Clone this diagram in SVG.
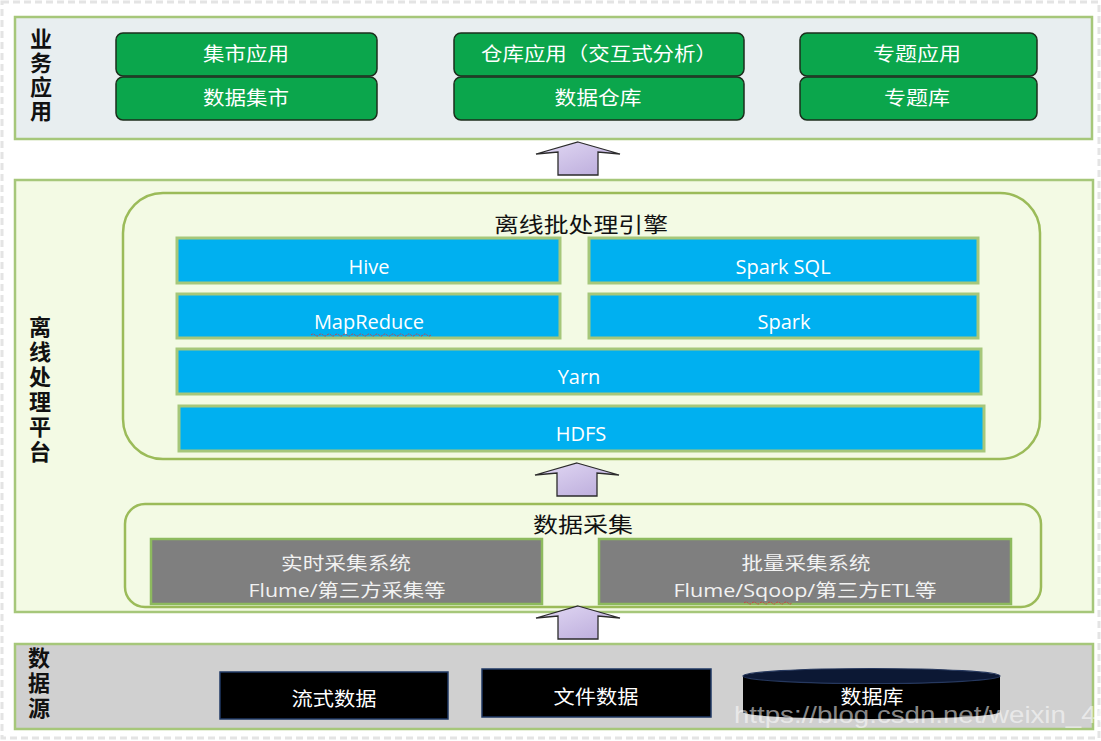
<svg xmlns="http://www.w3.org/2000/svg" width="1101" height="741" viewBox="0 0 1101 741">
<defs>
<linearGradient id="ag" x1="0" y1="0" x2="1" y2="1">
<stop offset="0" stop-color="#E2D9F4"/>
<stop offset="1" stop-color="#B9A9DA"/>
</linearGradient>
<path id="arrow" d="M0,0 L42,12 L20,10 L20,33 L-20,33 L-20,10 L-42,12 Z" fill="url(#ag)" stroke="#2b2b2b" stroke-width="1.3" stroke-linejoin="miter"/>
<style>
.panel{stroke:#A6C77A;stroke-width:2.5}
.lbl{font-family:"Noto Sans CJK SC",sans-serif;font-weight:bold;font-size:22px;fill:#111;writing-mode:vertical-rl}
.gbox{fill:#0BA64C;stroke:#1C2E1C;stroke-width:1.5}
.bbox{fill:#00B0F0;stroke:#A6C77A;stroke-width:3}
.graybox{fill:#7F7F7F;stroke:#8DBA5E;stroke-width:2.5}
.blk{fill:#000;stroke:#1F3864;stroke-width:1.5}
.inner{fill:none;stroke:#9BBB59;stroke-width:2.5}
.wt{font-family:"Open Sans","Noto Sans CJK SC",sans-serif;fill:#fff;text-anchor:middle;font-size:19px}
.bt{font-family:"Open Sans","Noto Sans CJK SC",sans-serif;fill:#fff;text-anchor:middle;font-size:20px}
.gt{font-family:"Open Sans","Noto Sans CJK SC",sans-serif;fill:#F2F2F2;text-anchor:middle;font-size:18px}
.title{font-family:"Noto Sans CJK SC",sans-serif;fill:#111;text-anchor:middle;font-size:21px}
.squig{fill:none;stroke:#D04040;stroke-width:1;stroke-dasharray:2 1}
</style>
</defs>
<rect x="2" y="2" width="1097" height="736" fill="#fff" stroke="#E4E4E4" stroke-width="3" stroke-dasharray="7 4"/>

<g id="layer-business">
<rect class="panel" x="15" y="17" width="1077" height="122" fill="#E8EEF0"/>
<text class="lbl" x="41" y="28" letter-spacing="2">业务应用</text>
</g>
<g id="node-mart-app"><rect class="gbox" x="116" y="33" width="261" height="43" rx="7"/><text class="wt" x="246" y="61" textLength="86" lengthAdjust="spacingAndGlyphs">集市应用</text></g>
<g id="node-mart"><rect class="gbox" x="116" y="77" width="261" height="43" rx="7"/><text class="wt" x="246" y="105" textLength="86" lengthAdjust="spacingAndGlyphs">数据集市</text></g>
<g id="node-dw-app"><rect class="gbox" x="454" y="33" width="290" height="43" rx="7"/><text class="wt" x="599" y="61" textLength="236" lengthAdjust="spacingAndGlyphs">仓库应用（交互式分析）</text></g>
<g id="node-dw"><rect class="gbox" x="454" y="77" width="290" height="43" rx="7"/><text class="wt" x="598" y="105" textLength="87" lengthAdjust="spacingAndGlyphs">数据仓库</text></g>
<g id="node-topic-app"><rect class="gbox" x="800" y="33" width="237" height="43" rx="7"/><text class="wt" x="917" y="61" textLength="88" lengthAdjust="spacingAndGlyphs">专题应用</text></g>
<g id="node-topic"><rect class="gbox" x="800" y="77" width="237" height="43" rx="7"/><text class="wt" x="917" y="105" textLength="66" lengthAdjust="spacingAndGlyphs">专题库</text></g>

<g id="layer-platform">
<rect class="panel" x="15" y="180" width="1078" height="432" fill="#F3FAE4"/>
<text class="lbl" x="40" y="316" letter-spacing="3">离线处理平台</text>
</g>
<g id="group-engine">
<rect class="inner" x="123" y="193" width="917" height="266" rx="40"/>
<text class="title" x="581" y="232" textLength="174" lengthAdjust="spacingAndGlyphs">离线批处理引擎</text>
</g>
<g id="node-hive"><rect class="bbox" x="177" y="238" width="383" height="45"/><text class="bt" x="369" y="274">Hive</text></g>
<g id="node-sparksql"><rect class="bbox" x="589" y="238" width="389" height="45"/><text class="bt" x="783" y="274">Spark SQL</text></g>
<g id="node-mapreduce"><rect class="bbox" x="177" y="294" width="383" height="44"/><text class="bt" x="369" y="329">MapReduce</text><path class="squig" d="M311,335 q2,-2 4,0 t4,0 t4,0 t4,0 t4,0 t4,0 t4,0 t4,0 t4,0 t4,0 t4,0 t4,0 t4,0 t4,0 t4,0 t4,0 t4,0 t4,0 t4,0 t4,0 t4,0 t4,0 t4,0 t4,0 t4,0 t4,0 t4,0 t4,0 t4,0 t4,0"/></g>
<g id="node-spark"><rect class="bbox" x="589" y="294" width="389" height="44"/><text class="bt" x="784" y="329">Spark</text></g>
<g id="node-yarn"><rect class="bbox" x="177" y="349" width="804" height="45"/><text class="bt" x="579" y="384">Yarn</text></g>
<g id="node-hdfs"><rect class="bbox" x="179" y="406" width="805" height="45"/><text class="bt" x="581" y="441">HDFS</text></g>

<g id="group-collect">
<rect class="inner" x="125" y="504" width="916" height="103" rx="20"/>
<text class="title" x="583" y="532" textLength="100" lengthAdjust="spacingAndGlyphs">数据采集</text>
</g>
<g id="node-realtime"><rect class="graybox" x="151" y="539" width="391" height="65"/><text class="gt" x="346" y="570" textLength="130" lengthAdjust="spacingAndGlyphs">实时采集系统</text><text class="gt" x="347" y="597" textLength="197" lengthAdjust="spacingAndGlyphs">Flume/第三方采集等</text></g>
<g id="node-batch"><rect class="graybox" x="599" y="539" width="412" height="65"/><text class="gt" x="806" y="570" textLength="129" lengthAdjust="spacingAndGlyphs">批量采集系统</text><text class="gt" x="805" y="597" textLength="263" lengthAdjust="spacingAndGlyphs">Flume/Sqoop/第三方ETL等</text><path class="squig" d="M744,603 q2,-2 4,0 t4,0 t4,0 t4,0 t4,0 t4,0 t4,0 t4,0 t4,0 t4,0 t4,0 t4,0"/></g>

<g id="layer-source">
<rect class="panel" x="15" y="644" width="1078" height="85" fill="#D0D0D0"/>
<text class="lbl" x="39" y="647" letter-spacing="3">数据源</text>
</g>
<g id="node-stream"><rect class="blk" x="220" y="672" width="228" height="47"/><text class="wt" x="334" y="706" textLength="85" lengthAdjust="spacingAndGlyphs">流式数据</text></g>
<g id="node-file"><rect class="blk" x="482" y="669" width="229" height="48"/><text class="wt" x="596" y="704" textLength="85" lengthAdjust="spacingAndGlyphs">文件数据</text></g>
<g id="node-db">
<path d="M743,676 L743,712 A128.5,7 0 0 0 1000,712 L1000,676 Z" fill="#000"/>
<ellipse cx="871.5" cy="676" rx="128.5" ry="7.5" fill="#0C1834" stroke="#26385E" stroke-width="1.2"/>
<text class="wt" x="872" y="704" textLength="63" lengthAdjust="spacingAndGlyphs">数据库</text>
</g>

<g id="connectors">
<use href="#arrow" x="578" y="142"/>
<use href="#arrow" x="577" y="463"/>
<use href="#arrow" x="578" y="606"/>
</g>

<text x="734" y="723" font-family="Liberation Sans, sans-serif" font-size="24" fill="#FFFFFF" fill-opacity="0.55" textLength="378" lengthAdjust="spacingAndGlyphs">https://blog.csdn.net/weixin_46</text>
</svg>
